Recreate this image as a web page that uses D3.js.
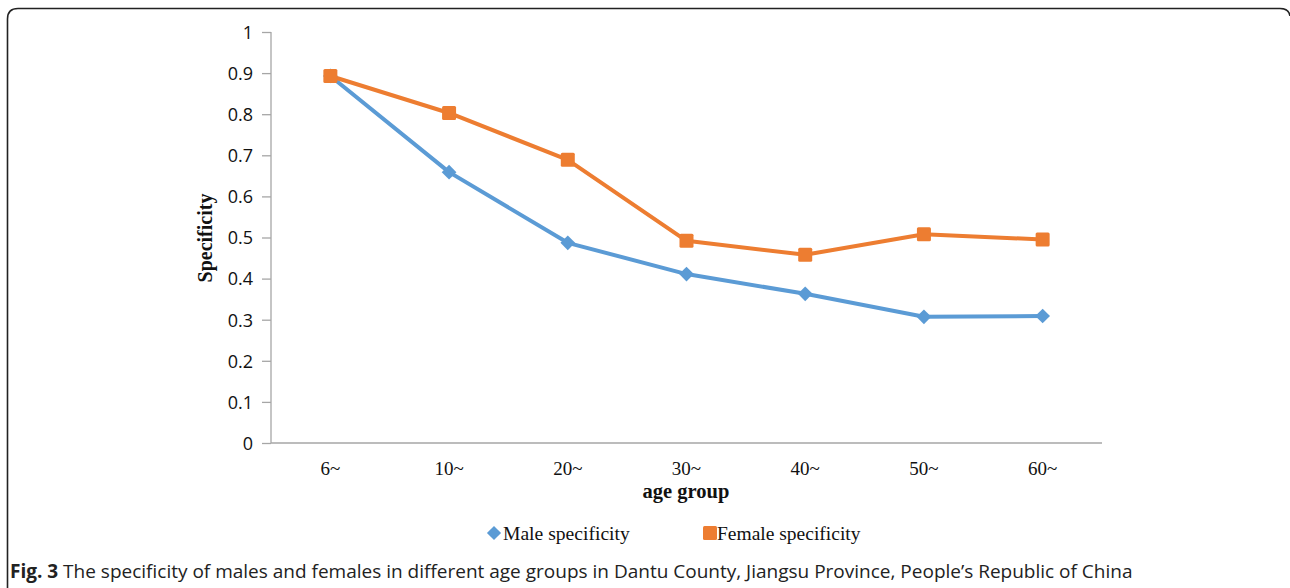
<!DOCTYPE html>
<html><head><meta charset="utf-8">
<script src="https://cdn.jsdelivr.net/npm/d3@7"></script>
<style>body{margin:0;background:#fff}svg{display:block}</style>
</head><body>
<script>
const categories = ["6~","10~","20~","30~","40~","50~","60~"];
const maleValues = [0.893,0.659,0.487,0.411,0.363,0.307,0.309];
const femaleValues = [0.893,0.803,0.689,0.492,0.458,0.508,0.495];
const yTicks = [0,0.1,0.2,0.3,0.4,0.5,0.6,0.7,0.8,0.9,1];
const seriesNames = ["Male specificity","Female specificity"];

const W=1290,H=588;
const svg=d3.select("body").append("svg").attr("width",W).attr("height",H);

// frame
svg.append("path")
  .attr("d","M7.5,600 L7.5,19 Q7.5,8.5 18,8.5 L1280,8.5 Q1289,8.5 1290,16")
  .attr("fill","none").attr("stroke","#222").attr("stroke-width",1.6);

const x=d3.scaleBand().domain(categories).range([271,1102]);
const y=d3.scaleLinear().domain([0,1]).range([443,32]);

const axisColor="#a6a6a6";
// y axis
const ya=svg.append("g").attr("transform","translate(271,0)")
  .call(d3.axisLeft(y).tickValues(yTicks).tickSize(9).tickFormat(d=>d3.format("")(d)));
ya.select(".domain").attr("stroke",axisColor).attr("stroke-width",1.3).attr("d","M0,32V443");
ya.selectAll(".tick line").attr("stroke",axisColor).attr("stroke-width",1.3);
ya.selectAll(".tick text").attr("font-family","'Open Sans',sans-serif").attr("font-size",18)
  .attr("fill","#111").attr("x",-18).attr("dy","0.35em");

// x axis
const xa=svg.append("g").attr("transform","translate(0,443)")
  .call(d3.axisBottom(x).tickSize(0));
xa.select(".domain").attr("stroke",axisColor).attr("stroke-width",1.3).attr("d","M271,0H1102");
xa.selectAll(".tick text").attr("font-family","'Liberation Serif',serif").attr("font-size",19)
  .attr("fill","#111").attr("y",32).attr("dy",0);

// axis titles
svg.append("text").attr("x",686).attr("y",498).attr("text-anchor","middle")
  .attr("font-family","'Liberation Serif',serif").attr("font-weight","bold").attr("font-size",20.5)
  .attr("fill","#111").text("age group");
svg.append("text").attr("transform","translate(212,238) rotate(-90)").attr("text-anchor","middle")
  .attr("font-family","'Liberation Serif',serif").attr("font-weight","bold").attr("font-size",20)
  .attr("fill","#111").text("Specificity");

const colors=["#5b9bd5","#ed7d31"];
const data=[maleValues,femaleValues];
const cx=d=>x(d)+x.bandwidth()/2;
const line=d3.line().x((d,i)=>cx(categories[i])).y(d=>y(d));

data.forEach((vals,k)=>{
  svg.append("path").datum(vals).attr("d",line).attr("fill","none")
    .attr("stroke",colors[k]).attr("stroke-width",4).attr("stroke-linejoin","round");
});
// markers: male diamonds
svg.selectAll(".m").data(maleValues).enter().append("path")
  .attr("transform",(d,i)=>`translate(${cx(categories[i])},${y(d)}) rotate(45)`)
  .attr("d","M-5.2,-5.2H5.2V5.2H-5.2Z").attr("fill",colors[0]);
svg.selectAll(".f").data(femaleValues).enter().append("rect")
  .attr("x",(d,i)=>cx(categories[i])-7).attr("y",d=>y(d)-7)
  .attr("width",14).attr("height",14).attr("rx",1.5).attr("fill",colors[1]);

// legend
const lg=svg.append("g");
lg.append("path").attr("transform","translate(494,533) rotate(45)")
  .attr("d","M-5,-5H5V5H-5Z").attr("fill",colors[0]);
lg.append("text").attr("x",503).attr("y",540).attr("font-family","'Liberation Serif',serif")
  .attr("font-size",19.6).attr("fill","#111").text(seriesNames[0]);
lg.append("rect").attr("x",703).attr("y",526).attr("width",14).attr("height",14).attr("rx",1.5).attr("fill",colors[1]);
lg.append("text").attr("x",717).attr("y",540).attr("font-family","'Liberation Serif',serif")
  .attr("font-size",19.5).attr("fill","#111").text(seriesNames[1]);

// caption
const cap=svg.append("text").attr("x",10).attr("y",578).attr("font-family","'Open Sans',sans-serif")
  .attr("font-size",19).attr("fill","#222");
cap.append("tspan").attr("font-weight","bold").text("Fig. 3");
cap.append("tspan").text(" The specificity of males and females in different age groups in Dantu County, Jiangsu Province, People\u2019s Republic of China");
</script>
</body></html>
